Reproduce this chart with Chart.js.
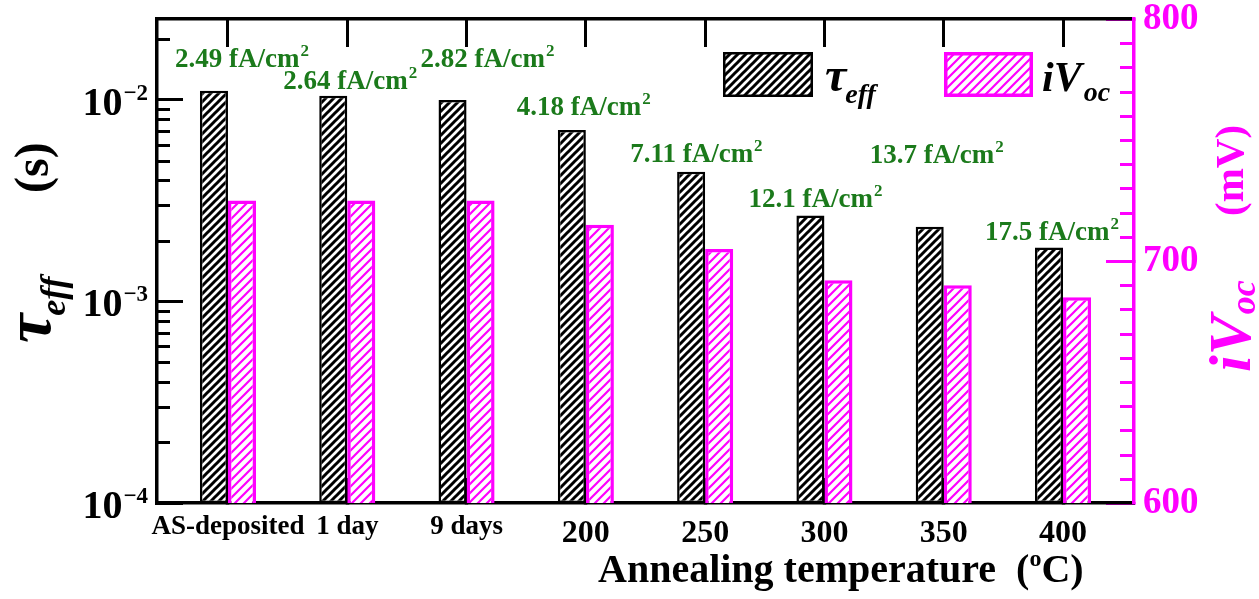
<!DOCTYPE html>
<html>
<head>
<meta charset="utf-8">
<script src="https://cdn.jsdelivr.net/npm/chart.js@4.4.1/dist/chart.umd.min.js"></script>
<style>
  html, body { margin: 0; padding: 0; background: #fff; }
  #wrap { width: 1259px; height: 599px; position: relative; }
</style>
</head>
<body>
<div id="wrap"><canvas id="c"></canvas></div>
<script>
// ---- data ----
const categories = ['AS-deposited', '1 day', '9 days', '200', '250', '300', '350', '400'];
const tauEff = [0.0111, 0.0105, 0.0100, 0.0071, 0.0044, 0.00267, 0.00235, 0.00185]; // s
const iVoc = [725, 725, 725, 715, 705, 692, 690, 685];                             // mV
const j0Values = ['2.49', '2.64', '2.82', '4.18', '7.11', '12.1', '13.7', '17.5'];  // fA/cm2
const tauTicks = [1e-4, 1e-3, 1e-2];
const tauTickExponents = ['\u22124', '\u22123', '\u22122'];
const vocTicks = [600, 700, 800];
const minorMultipliers = [2, 3, 4, 5, 6, 7, 8, 9];

// ---- styling / placement ----
const SERIF = '"Liberation Serif", "Times New Roman", serif';
const MAGENTA = '#ff00ff';
const GREEN = '#1b7a1b';
// J0 annotation placement: left edge relative to group centre, and baseline (px)
const j0Place = [[-53, 67], [-64, 89], [-46, 67], [-69, 115], [-75, 162], [-76, 207], [-74, 163], [-78, 240]];

function hatch(color, lineW, period) {
  const c = document.createElement('canvas');
  c.width = c.height = period;
  const g = c.getContext('2d');
  g.fillStyle = '#fff';
  g.fillRect(0, 0, period, period);
  g.strokeStyle = color;
  g.lineWidth = lineW;
  g.beginPath();
  g.moveTo(-1, period + 1); g.lineTo(period + 1, -1);
  g.moveTo(-period / 2 - 1, period / 2 + 1); g.lineTo(period / 2 + 1, -period / 2 - 1);
  g.moveTo(period / 2 - 1, period * 1.5 + 1); g.lineTo(period * 1.5 + 1, period / 2 - 1);
  g.stroke();
  return g.createPattern(c, 'repeat');
}

const blackHatch = hatch('#000', 3.0, 8);
const pinkHatch = hatch(MAGENTA, 2.2, 9);

// draws a run of text pieces (with sub/superscript shifts) starting at x, baseline y
function drawRich(ctx, x, y, parts) {
  let cx = x;
  for (const p of parts) {
    ctx.font = p.font;
    if (p.color) ctx.fillStyle = p.color;
    ctx.fillText(p.text, cx + (p.dx || 0), y + (p.dy || 0));
    cx += ctx.measureText(p.text).width + (p.dx || 0);
  }
  return cx - x;
}
function richWidth(ctx, parts) {
  let w = 0;
  for (const p of parts) { ctx.font = p.font; w += ctx.measureText(p.text).width + (p.dx || 0); }
  return w;
}

const decorPlugin = {
  id: 'decor',
  afterDraw(chart) {
    const ctx = chart.ctx;
    const sx = chart.scales.x, sy = chart.scales.y, sy1 = chart.scales.y1;
    ctx.save();

    // minor ticks, left (log) axis
    ctx.strokeStyle = '#000';
    ctx.lineWidth = 3;
    for (let e = Math.log10(tauTicks[0]); e <= Math.log10(sy.max); e++) {
      for (const k of minorMultipliers) {
        const v = k * Math.pow(10, e);
        if (v >= sy.max) continue;
        const py = Math.round(sy.getPixelForValue(v)) + 0.5;
        ctx.beginPath(); ctx.moveTo(sy.right, py); ctx.lineTo(sy.right + 13, py); ctx.stroke();
      }
    }
    // minor ticks, right axis (every 10 mV)
    ctx.strokeStyle = MAGENTA;
    for (let v = sy1.min + 10; v < sy1.max; v += 10) {
      if (vocTicks.includes(v)) continue;
      const py = Math.round(sy1.getPixelForValue(v)) + 0.5;
      ctx.beginPath(); ctx.moveTo(sy1.left, py); ctx.lineTo(sy1.left - 14, py); ctx.stroke();
    }

    ctx.textAlign = 'left';
    ctx.textBaseline = 'alphabetic';

    // decade labels of the log axis: 10 with a raised exponent
    ctx.fillStyle = '#000';
    tauTicks.forEach((v, i) => {
      const parts = [
        { text: '10', font: 'bold 40px ' + SERIF },
        { text: tauTickExponents[i], font: 'bold 23px ' + SERIF, dy: -15, dx: 1 }
      ];
      const w = richWidth(ctx, parts);
      drawRich(ctx, sy.right - 9 - w, sy.getPixelForValue(v) + 15, parts);
    });

    // J0 annotations
    ctx.fillStyle = GREEN;
    j0Values.forEach((val, i) => {
      const [dx, by] = j0Place[i];
      const x0 = sx.getPixelForValue(i) + dx;
      drawRich(ctx, x0, by, [
        { text: val + ' fA/cm', font: 'bold 27px ' + SERIF },
        { text: '2', font: 'bold 17px ' + SERIF, dy: -11, dx: 1 }
      ]);
    });

    // legend
    const ds = chart.data.datasets;
    ctx.fillStyle = ds[0].backgroundColor;
    ctx.fillRect(723, 52, 90, 45);
    ctx.strokeStyle = '#000'; ctx.lineWidth = 2.5;
    ctx.strokeRect(724.25, 53.25, 87.5, 42.5);
    ctx.fillStyle = '#000';
    drawRich(ctx, 825, 91, [
      { text: '\u03C4', font: 'italic bold 48px ' + SERIF },
      { text: 'eff', font: 'italic bold 28px ' + SERIF, dy: 12, dx: -1 }
    ]);
    ctx.fillStyle = ds[1].backgroundColor;
    ctx.fillRect(944, 52, 89, 45);
    ctx.strokeStyle = MAGENTA; ctx.lineWidth = 3.5;
    ctx.strokeRect(945.75, 53.75, 85.5, 41.5);
    ctx.fillStyle = '#000';
    drawRich(ctx, 1042, 91, [
      { text: 'iV', font: 'italic bold 42px ' + SERIF },
      { text: 'oc', font: 'italic bold 28px ' + SERIF, dy: 10, dx: 2 }
    ]);

    // x axis title
    ctx.fillStyle = '#000';
    drawRich(ctx, 598, 582, [
      { text: 'Annealing temperature  (', font: 'bold 40px ' + SERIF },
      { text: 'o', font: 'bold 24px ' + SERIF, dy: -16 },
      { text: 'C)', font: 'bold 40px ' + SERIF }
    ]);

    // left axis title
    ctx.save();
    ctx.translate(50, 343);
    ctx.rotate(-Math.PI / 2);
    ctx.fillStyle = '#000';
    drawRich(ctx, 0, 0, [
      { text: '\u03C4', font: 'italic bold 66px ' + SERIF },
      { text: 'eff', font: 'italic bold 36px ' + SERIF, dy: 15, dx: -2 }
    ]);
    ctx.font = 'bold 48px ' + SERIF;
    ctx.fillText('(s)', 150, -2);
    ctx.restore();

    // right axis title
    ctx.fillStyle = MAGENTA;
    ctx.save();
    ctx.translate(1250, 372);
    ctx.rotate(-Math.PI / 2);
    drawRich(ctx, 0, 0, [
      { text: 'iV', font: 'italic bold 60px ' + SERIF },
      { text: 'oc', font: 'italic bold 36px ' + SERIF, dy: 5, dx: 1 }
    ]);
    ctx.restore();
    ctx.save();
    ctx.translate(1243, 216);
    ctx.rotate(-Math.PI / 2);
    ctx.font = 'bold 41px ' + SERIF;
    ctx.fillText('(mV)', 0, 0);
    ctx.restore();

    ctx.restore();
  }
};

const xMin = -0.595, xMax = 7.595;
const groupTicks = (s) => { s.ticks = categories.map((_, i) => ({ value: i })); };
// fixed box sizes, no extra label padding around the plot frame
const fixBox = (w, h) => (s) => {
  if (w !== null) s.width = w;
  if (h !== null) s.height = h;
  s.paddingTop = 0; s.paddingBottom = 0; s.paddingLeft = 0; s.paddingRight = 0;
};

new Chart(document.getElementById('c'), {
  type: 'bar',
  data: {
    datasets: [
      {
        label: 'tau_eff',
        data: categories.map((_, i) => ({ x: i, y: tauEff[i] })),
        xAxisID: 'x', yAxisID: 'y',
        backgroundColor: blackHatch,
        borderColor: '#000',
        borderWidth: 2.5,
        borderSkipped: false,
        barPercentage: 1,
        categoryPercentage: 0.47
      },
      {
        label: 'iVoc',
        data: categories.map((_, i) => ({ x: i, y: iVoc[i] })),
        xAxisID: 'x', yAxisID: 'y1',
        backgroundColor: pinkHatch,
        borderColor: MAGENTA,
        borderWidth: 3.5,
        borderSkipped: false,
        barPercentage: 1,
        categoryPercentage: 0.47
      }
    ]
  },
  options: {
    responsive: true,
    maintainAspectRatio: false,
    animation: false,
    layout: { padding: 0 },
    plugins: { legend: { display: false }, tooltip: { enabled: false } },
    scales: {
      x: {
        type: 'linear', position: 'bottom', min: xMin, max: xMax, z: 1, offset: false,
        afterBuildTicks: groupTicks,
        afterFit: fixBox(null, 96),
        ticks: {
          color: '#000',
          padding: 37,
          autoSkip: false,
          maxRotation: 0,
          callback: (v) => categories[v] ?? '',
          font: (c) => c.index < 3
            ? { family: SERIF, size: 27, weight: 'bold', lineHeight: 0.9 }
            : { family: SERIF, size: 32, weight: 'bold', lineHeight: 1.2 }
        },
        grid: { offset: false, drawOnChartArea: false, tickLength: -25, tickWidth: 3.5, tickColor: '#000' },
        border: { display: true, width: 3.5, color: '#000' }
      },
      x2: {
        type: 'linear', position: 'top', min: xMin, max: xMax, offset: false,
        afterBuildTicks: groupTicks,
        afterFit: fixBox(null, 19),
        ticks: { display: false },
        grid: { offset: false, drawOnChartArea: false, tickLength: -28, tickWidth: 3, tickColor: '#000' },
        border: { display: true, width: 3.5, color: '#000' }
      },
      y: {
        type: 'logarithmic', position: 'left', min: tauTicks[0], max: 0.0252,
        afterBuildTicks: (s) => { s.ticks = tauTicks.map(v => ({ value: v })); },
        afterFit: fixBox(157, null),
        ticks: { display: false },
        grid: { drawOnChartArea: false, tickLength: -26, tickWidth: 3, tickColor: '#000' },
        border: { display: true, width: 3.5, color: '#000' }
      },
      y1: {
        type: 'linear', position: 'right', min: vocTicks[0], max: vocTicks[vocTicks.length - 1],
        afterBuildTicks: (s) => { s.ticks = vocTicks.map(v => ({ value: v })); },
        afterFit: fixBox(125, null),
        ticks: {
          color: MAGENTA,
          padding: 37,
          font: { family: SERIF, size: 37, weight: 'bold' }
        },
        grid: { drawOnChartArea: false, tickLength: -28, tickWidth: 3, tickColor: MAGENTA },
        border: { display: true, width: 3.5, color: MAGENTA }
      }
    }
  },
  plugins: [decorPlugin]
});
</script>
</body>
</html>
